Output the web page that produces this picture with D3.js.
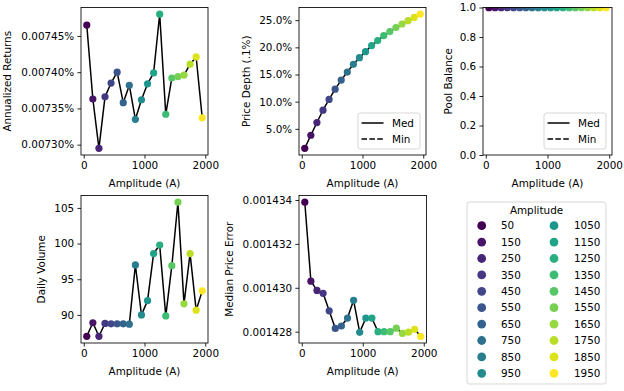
<!DOCTYPE html>
<html>
<head>
<meta charset="utf-8">
<script src="https://cdn.jsdelivr.net/npm/d3@7"></script>
<style>
html,body{margin:0;padding:0;background:#fff;}
svg{display:block;}
text{font-family:"DejaVu Sans",sans-serif;fill:#000;}
</style>
</head>
<body>
<svg id="chart" width="624" height="391"></svg>
<script>
// ---------------- DATA ----------------
const amplitudes = [50,150,250,350,450,550,650,750,850,950,1050,1150,1250,1350,1450,1550,1650,1750,1850,1950];
// Annualized returns, in percent
const annualizedReturns = [0.007465,0.007363,0.007295,0.007366,0.007385,0.007400,0.007358,0.007382,0.007335,0.007362,
                           0.007384,0.007399,0.007480,0.007342,0.007392,0.007394,0.007396,0.007411,0.007421,0.007337];
// Price depth, in percent
const priceDepth = [1.42,3.82,6.16,8.43,10.41,12.31,13.97,15.45,16.87,18.10,
                    19.21,20.32,21.25,22.17,22.91,23.65,24.30,24.90,25.50,26.10];
const poolBalance = [0.999,0.999,0.999,0.999,0.999,0.999,0.999,0.999,0.999,0.999,
                     0.999,0.999,0.999,0.999,0.999,0.999,0.999,0.999,0.999,0.999];
const dailyVolume = [87.0,88.9,87.0,88.8,88.75,88.75,88.75,88.7,97.0,90.0,
                     92.0,98.6,99.8,89.86,96.9,105.8,91.55,98.6,90.66,93.37];
const medianPriceError = [0.0014339,0.0014303,0.00142988,0.00142975,0.00142895,0.00142815,0.00142826,0.00142862,0.00142943,0.00142797,
                          0.00142862,0.00142862,0.001428,0.001428,0.001428,0.00142816,0.00142792,0.00142798,0.00142811,0.00142779];

const xTicks = [0,1000,2000];
const returnsTicks = [0.00730,0.00735,0.00740,0.00745];
const depthTicks = [5,10,15,20,25];
const balanceTicks = [0,0.2,0.4,0.6,0.8,1.0];
const volumeTicks = [90,95,100,105];
const errorTicks = [0.001428,0.001430,0.001432,0.001434];
const legendSeries = ["Med","Min"];

// ---------------- CHART ----------------
const svg = d3.select("#chart");
const FS = 10.4;
const color = d3.scaleSequential(d3.interpolateViridis).domain([50,1950]);

const panels = [
  {id:"p1", x0:81, x1:208, y0:7.5, y1:155, data:annualizedReturns, ticks:returnsTicks,
   fmt:d=>d3.format(".5f")(d)+"%", label:"Annualized Returns", labelX:7.5, legend:false},
  {id:"p2", x0:299, x1:426, y0:7.5, y1:155, data:priceDepth, ticks:depthTicks,
   fmt:d=>d3.format(".1f")(d)+"%", label:"Price Depth (.1%)", labelX:246, legend:true},
  {id:"p3", x0:483, x1:612, y0:7.5, y1:155, data:poolBalance, ticks:balanceTicks,
   fmt:d3.format(".1f"), label:"Pool Balance", labelX:448, legend:true, fixed:[0,1]},
  {id:"p4", x0:81, x1:208, y0:195.5, y1:343, data:dailyVolume, ticks:volumeTicks,
   fmt:d3.format("d"), label:"Daily Volume", labelX:41, legend:false},
  {id:"p5", x0:299, x1:426.5, y0:195.5, y1:343, data:medianPriceError, ticks:errorTicks,
   fmt:d3.format(".6f"), label:"Median Price Error", labelX:229, legend:false}
];

panels.forEach(p => {
  const w = p.x1 - p.x0, h = p.y1 - p.y0;
  const g = svg.append("g").attr("transform", `translate(${p.x0},${p.y0})`);
  const x = d3.scaleLinear().domain([-45,2045]).range([0,w]);
  let dom;
  if (p.fixed) dom = p.fixed;
  else {
    const [mn,mx] = d3.extent(p.data);
    const m = (mx-mn)*0.05;
    dom = [mn-m, mx+m];
  }
  const y = d3.scaleLinear().domain(dom).range([h,0]);

  svg.append("clipPath").attr("id","clip-"+p.id)
    .append("rect").attr("x",0).attr("y",0).attr("width",w).attr("height",h);

  const pts = amplitudes.map((a,i)=>({a, v:p.data[i]}));
  const plot = g.append("g").attr("clip-path",`url(#clip-${p.id})`);
  plot.append("path").datum(pts)
    .attr("fill","none").attr("stroke","#000").attr("stroke-width",1.5)
    .attr("stroke-linejoin","round")
    .attr("d", d3.line().x(d=>x(d.a)).y(d=>y(d.v)));
  plot.selectAll("circle").data(pts).join("circle")
    .attr("cx",d=>x(d.a)).attr("cy",d=>y(d.v)).attr("r",3.6)
    .attr("fill",d=>color(d.a));

  // axes
  const xa = g.append("g").attr("transform",`translate(0,${h})`)
    .call(d3.axisBottom(x).tickValues(xTicks).tickSize(3.6).tickPadding(3.2).tickFormat(d3.format("d")));
  const ya = g.append("g")
    .call(d3.axisLeft(y).tickValues(p.ticks).tickSize(3.6).tickPadding(3.2).tickFormat(p.fmt));
  [xa,ya].forEach(a=>{
    a.select(".domain").remove();
    a.selectAll("line").attr("stroke","#000").attr("stroke-width",0.85);
    a.selectAll("text").attr("font-size",FS).attr("font-family","DejaVu Sans").attr("fill","#000");
  });

  g.append("rect").attr("x",0).attr("y",0).attr("width",w).attr("height",h)
    .attr("fill","none").attr("stroke","#000").attr("stroke-width",0.85);

  // labels
  g.append("text").attr("x",w/2).attr("y",h+28).attr("dy","0.35em")
    .attr("text-anchor","middle").attr("font-size",FS).text("Amplitude (A)");
  svg.append("text")
    .attr("transform",`translate(${p.labelX},${p.y0+h/2}) rotate(-90)`)
    .attr("dy","0.35em").attr("text-anchor","middle").attr("font-size",FS).text(p.label);

  if (p.legend) {
    const lw = 62, lh = 36;
    const lx = w - 6 - lw, ly = h - 6 - lh;
    const lg = g.append("g").attr("transform",`translate(${lx},${ly})`);
    lg.append("rect").attr("width",lw).attr("height",lh).attr("rx",2.5)
      .attr("fill","#fff").attr("fill-opacity",0.8).attr("stroke","#d0d0d0").attr("stroke-width",0.85);
    legendSeries.forEach((s,i)=>{
      const yy = 10 + i*16;
      lg.append("line").attr("x1",3.5).attr("x2",25.5).attr("y1",yy).attr("y2",yy)
        .attr("stroke","#000").attr("stroke-width",1.5)
        .attr("stroke-dasharray", i===1 ? "5.5,2.4" : null);
      lg.append("text").attr("x",34).attr("y",yy).attr("dy","0.35em")
        .attr("font-size",FS).text(s);
    });
  }
});

// big legend
const L = {x:467, y:202, w:139, h:182};
const lgd = svg.append("g").attr("transform",`translate(${L.x},${L.y})`);
lgd.append("rect").attr("width",L.w).attr("height",L.h).attr("rx",2.5)
  .attr("fill","#fff").attr("fill-opacity",0.8).attr("stroke","#d0d0d0").attr("stroke-width",0.85);
lgd.append("text").attr("x",L.w/2).attr("y",8.5).attr("dy","0.35em")
  .attr("text-anchor","middle").attr("font-size",FS).text("Amplitude");
amplitudes.forEach((a,i)=>{
  const col = Math.floor(i/10), row = i%10;
  const cx = col===0 ? 14.7 : 87;
  const tx = col===0 ? 34 : 107;
  const cy = 23.7 + row*16.4;
  lgd.append("circle").attr("cx",cx).attr("cy",cy).attr("r",4.4).attr("fill",color(a));
  lgd.append("text").attr("x",tx).attr("y",cy).attr("dy","0.35em")
    .attr("font-size",FS).text(a);
});
</script>
</body>
</html>
